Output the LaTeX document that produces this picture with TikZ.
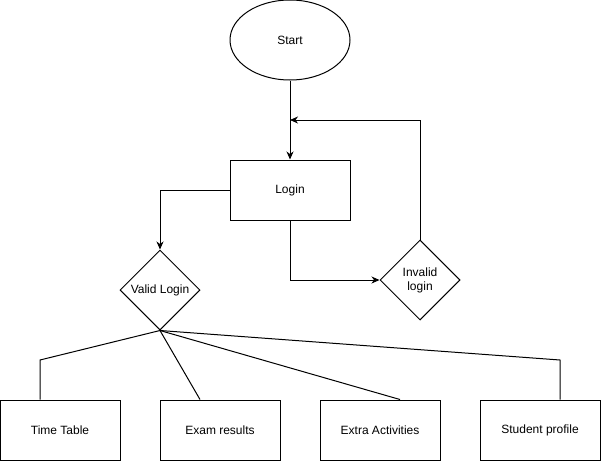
\documentclass[tikz,border=0pt]{standalone}
\usepackage{fontspec}
\setmainfont{Liberation Sans}
\usetikzlibrary{shapes.geometric,arrows.meta}

\begin{document}
\begin{tikzpicture}[x=1pt,y=-1pt,line width=1pt,
    every node/.style={font=\fontsize{12}{14}\selectfont,inner sep=0pt},
    stepbox/.style={draw,rectangle,minimum width=120pt,minimum height=60pt},
    startnode/.style={draw,ellipse,minimum width=120pt,minimum height=80pt},
    decision/.style={draw,diamond,aspect=1,minimum width=80pt,minimum height=80pt,align=center},
    flow/.style={-{Stealth[length=8pt,width=7pt,inset=2.5pt]}}]
    \useasboundingbox (0,0) rectangle (601,461);

    \node[startnode] (start) at (290,40) {Start};
    \node[stepbox] (login) at (290,190) {Login};
    \node[decision] (valid) at (160,290) {Valid Login};
    \node[decision] (invalid) at (420,280) {Invalid\\login};

    \node[stepbox] (tt) at (60,430) {Time Table};
    \node[stepbox] (er) at (220,430) {Exam results};
    \node[stepbox] (ea) at (380,430) {Extra Activities};
    \node[stepbox] (sp) at (540,430) {Student profile};

    \coordinate (back) at (290,120);
    \coordinate (k1) at (40,360);
    \coordinate (k4) at (560,360);

    \draw[flow] (start) -- (login);
    \draw[flow] (login.west) -| (valid.north);
    \draw[flow] (login.south) |- (invalid.west);
    \draw[flow] (invalid.north) |- (back);

    \draw (valid.south) -- (k1) -- (k1 |- tt.north);
    \draw (valid.south) -- ([xshift=-20pt]er.north);
    \draw (valid.south) -- ([xshift=20pt]ea.north);
    \draw (valid.south) -- (k4) -- (k4 |- sp.north);
\end{tikzpicture}
\end{document}
